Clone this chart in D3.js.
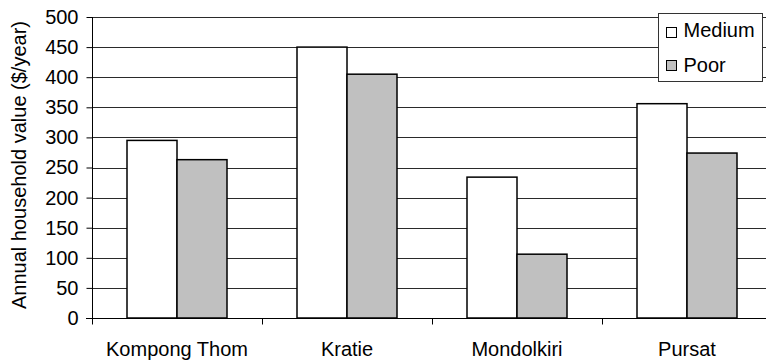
<!DOCTYPE html>
<html>
<head>
<meta charset="utf-8">
<script src="https://cdn.jsdelivr.net/npm/d3@7"></script>
<style>
  html, body { margin: 0; padding: 0; background: #fff; }
  svg { display: block; }
  text { font-family: "Liberation Sans", Arial, sans-serif; fill: #000; }
</style>
</head>
<body>
<svg id="chart" width="766" height="360"></svg>
<script>
// Household values by province, two wealth groups
const provinces = ["Kompong Thom", "Kratie", "Mondolkiri", "Pursat"];
const seriesNames = ["Medium", "Poor"];
const mediumValues = [295, 450, 234, 356];
const poorValues = [263, 405, 106, 274];
const yTicks = [0, 50, 100, 150, 200, 250, 300, 350, 400, 450, 500];
const seriesFill = ["#ffffff", "#c0c0c0"];

const svg = d3.select("#chart");
const plotLeft = 92, plotRight = 772, plotTop = 17, plotBottom = 318;
const fontSize = 20;

const x = d3.scaleBand().domain(provinces).range([plotLeft, plotRight]).paddingInner(0).paddingOuter(0);
const inner = d3.scaleBand().domain(seriesNames).range([35 / 170 * x.bandwidth(), 135 / 170 * x.bandwidth()]);
const y = d3.scaleLinear().domain([0, 500]).range([plotBottom, plotTop]);

// horizontal gridlines
svg.append("g").selectAll("line").data(yTicks.filter(d => d > 0)).join("line")
  .attr("x1", plotLeft).attr("x2", plotRight)
  .attr("y1", d => Math.round(y(d)) + 0.5).attr("y2", d => Math.round(y(d)) + 0.5)
  .attr("stroke", "#2a2a2a").attr("stroke-width", 1);

// bars
const rows = provinces.map((p, i) => ({ p, vals: [mediumValues[i], poorValues[i]] }));
const groups = svg.append("g").selectAll("g").data(rows).join("g")
  .attr("transform", d => `translate(${x(d.p)},0)`);
groups.selectAll("rect").data(d => d.vals.map((v, j) => ({ v, s: seriesNames[j], j }))).join("rect")
  .attr("x", d => inner(d.s))
  .attr("width", inner.bandwidth())
  .attr("y", d => y(d.v))
  .attr("height", d => y(0) - y(d.v))
  .attr("fill", d => seriesFill[d.j])
  .attr("stroke", "#000").attr("stroke-width", 1.5);

// y axis
const yAxis = d3.axisLeft(y).tickValues(yTicks).tickSize(6).tickPadding(8);
const gy = svg.append("g").attr("transform", `translate(${plotLeft + 0.5},0)`).call(yAxis);
gy.select(".domain").attr("stroke", "#000").attr("d", `M0,${plotTop}V${plotBottom}`);
gy.selectAll(".tick line").attr("stroke", "#000");
gy.selectAll(".tick text").attr("font-size", fontSize).attr("font-family", "Liberation Sans, Arial, sans-serif").attr("fill", "#000");

// x axis
const gx = svg.append("g").attr("transform", `translate(0,${plotBottom + 0.5})`);
gx.append("line").attr("x1", plotLeft - 6).attr("x2", plotRight).attr("stroke", "#000");
gx.selectAll(".tk").data(provinces.map(p => x(p)).concat([plotRight])).join("line")
  .attr("class", "tk")
  .attr("x1", d => Math.round(d) + 0.5).attr("x2", d => Math.round(d) + 0.5)
  .attr("y1", 0).attr("y2", 6).attr("stroke", "#000");
gx.selectAll("text").data(provinces).join("text")
  .attr("x", d => x(d) + x.bandwidth() / 2)
  .attr("y", 37)
  .attr("text-anchor", "middle")
  .attr("font-size", fontSize)
  .text(d => d);

// y axis title
svg.append("text")
  .attr("transform", "translate(25.5,165) rotate(-90)")
  .attr("text-anchor", "middle")
  .attr("font-size", fontSize)
  .text("Annual household value ($/year)");

// legend
const lg = svg.append("g").attr("transform", "translate(658.5,13.5)");
lg.append("rect").attr("width", 104).attr("height", 68).attr("fill", "#fff").attr("stroke", "#333");
seriesNames.forEach((s, i) => {
  lg.append("rect").attr("x", 8).attr("y", 14 + i * 33).attr("width", 10).attr("height", 10)
    .attr("fill", seriesFill[i]).attr("stroke", "#000");
  lg.append("text").attr("x", 25).attr("y", 23 + i * 35).attr("font-size", fontSize).text(s);
});
</script>
</body>
</html>
